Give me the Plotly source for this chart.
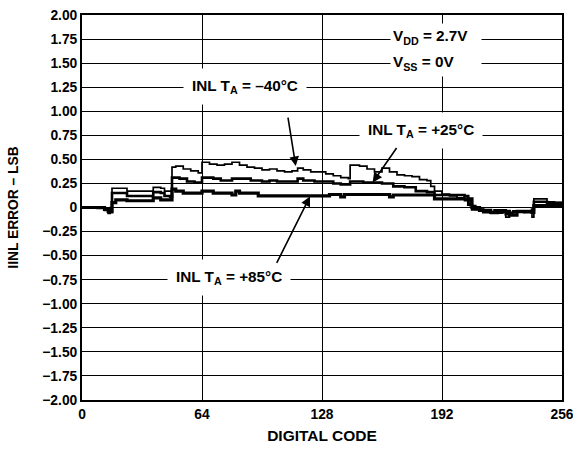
import plotly.graph_objects as go

# ---- data ----
code_m40 = [0, 8, 12, 14, 15, 16, 20, 24, 36, 38, 42, 44, 47, 48, 50, 54, 58, 62, 64, 68, 72, 76, 80, 84, 88,
            92, 96, 100, 104, 108, 112, 115, 118, 122, 126, 130, 134, 138, 142, 143, 148, 152, 156, 160, 164,
            168, 172, 176, 180, 184, 186, 188, 192, 196, 200, 204, 207, 210, 214, 218, 222, 226, 228, 232,
            236, 240, 241, 244, 248, 252, 256]
inl_m40 = [0.0, -0.01, -0.03, -0.06, 0.0, 0.2, 0.2, 0.17, 0.17, 0.21, 0.2, 0.17, 0.17, 0.42, 0.43, 0.4, 0.38,
           0.36, 0.47, 0.45, 0.44, 0.45, 0.47, 0.44, 0.42, 0.41, 0.39, 0.40, 0.38, 0.37, 0.38, 0.41, 0.39, 0.37,
           0.37, 0.35, 0.33, 0.31, 0.30, 0.44, 0.43, 0.40, 0.37, 0.41, 0.37, 0.34, 0.33, 0.32, 0.29, 0.28, 0.22,
           0.17, 0.14, 0.12, 0.10, 0.07, 0.02, -0.02, -0.04, -0.06, -0.05, -0.10, -0.05, -0.05, -0.04, -0.10,
           0.09, 0.09, 0.06, 0.05, 0.02]

code_p25 = [0, 12, 14, 16, 20, 24, 36, 38, 42, 44, 47, 48, 52, 56, 60, 64, 70, 74, 80, 86, 90, 96, 100, 104,
            110, 115, 118, 124, 130, 134, 138, 143, 150, 156, 160, 166, 172, 178, 184, 188, 196, 204, 206, 208,
            214, 220, 226, 230, 236, 240, 241, 248, 256]
inl_p25 = [0.0, -0.02, -0.05, 0.15, 0.15, 0.12, 0.12, 0.16, 0.15, 0.12, 0.11, 0.31, 0.30, 0.27, 0.26, 0.31,
           0.30, 0.28, 0.30, 0.30, 0.28, 0.27, 0.28, 0.27, 0.27, 0.30, 0.28, 0.27, 0.27, 0.25, 0.24, 0.27, 0.26,
           0.26, 0.25, 0.22, 0.21, 0.17, 0.16, 0.13, 0.13, 0.12, 0.03, -0.02, -0.05, -0.03, -0.07, -0.04, -0.05,
           -0.02, 0.06, 0.05, 0.02]

code_p85 = [0, 12, 14, 16, 18, 24, 36, 38, 42, 47, 48, 50, 54, 62, 64, 70, 78, 80, 82, 84, 90, 94, 128, 132,
            138, 140, 160, 164, 166, 186, 188, 204, 208, 212, 218, 224, 228, 232, 240, 241, 248, 256]
inl_p85 = [0.0, -0.02, -0.04, 0.05, 0.08, 0.07, 0.07, 0.10, 0.08, 0.08, 0.19, 0.17, 0.15, 0.15, 0.17, 0.15,
           0.15, 0.13, 0.17, 0.15, 0.15, 0.12, 0.12, 0.135, 0.11, 0.135, 0.135, 0.11, 0.13, 0.13, 0.09, 0.09,
           0.0, -0.03, -0.05, -0.04, -0.08, -0.04, -0.05, 0.02, 0.02, 0.0]

y_ticks = [2.0, 1.75, 1.5, 1.25, 1.0, 0.75, 0.5, 0.25, 0, -0.25, -0.5, -0.75, -1.0, -1.25, -1.5, -1.75, -2.0]
y_ticktext = ["2.00", "1.75", "1.50", "1.25", "1.00", "0.75", "0.50", "0.25", "0", "\u22120.25", "\u22120.50",
              "\u22120.75", "\u22121.00", "\u22121.25", "\u22121.50", "\u22121.75", "\u22122.00"]
x_ticks = [0, 64, 128, 192, 256]

FONT = "Liberation Sans"
TICK_FS = 13.8
TITLE_FS = 15.5
LAB_FS = 15.3

fig = go.Figure()
for xs, ys, w in [(code_m40, inl_m40, 1.7), (code_p25, inl_p25, 2.6), (code_p85, inl_p85, 3.2)]:
    fig.add_trace(go.Scatter(x=xs, y=ys, mode="lines", line=dict(color="black", width=w, shape="hv"),
                             showlegend=False, hoverinfo="skip"))

lab_font = dict(family=FONT, size=LAB_FS, color="black", weight="bold")


def label(text, x, y, pad=10, width=None, align="center", height=None):
    fig.add_annotation(x=x, y=y, xref="x", yref="y", text=text, showarrow=False, font=lab_font,
                       bgcolor="white", borderpad=pad, width=width, height=height, align=align)


def arrow(x, y, ax, ay):
    fig.add_annotation(x=x, y=y, xref="x", yref="y", text="", showarrow=True, ax=ax, ay=ay,
                       arrowhead=2, arrowsize=1.2, arrowwidth=1.6, arrowcolor="black")


label("V<sub>DD</sub> = 2.7V", 189, 1.77, pad=2, width=86, height=22, align="left")
label("V<sub>SS</sub> = 0V", 189, 1.50, pad=2, width=86, height=22, align="left")
label("INL T<sub>A</sub> = \u201340\u00b0C", 87, 1.26, pad=8)
label("INL T<sub>A</sub> = +25\u00b0C", 181, 0.80, pad=8)
label("INL T<sub>A</sub> = +85\u00b0C", 78.4, -0.73, pad=8)

arrow(114, 0.43, -8, -50)
arrow(155, 0.26, 25, -36)
arrow(121.6, 0.115, -34, 68)

axis_common = dict(showline=True, mirror=True, linecolor="black", linewidth=2, showgrid=True,
                   gridcolor="black", gridwidth=1, zeroline=False, ticks="", automargin=False,
                   ticklabeloverflow="allow",
                   tickfont=dict(family=FONT, size=TICK_FS, color="black", weight="bold"))

fig.update_xaxes(range=[0, 256], tickvals=x_ticks, **axis_common,
                 title=dict(text="DIGITAL CODE",
                            font=dict(family=FONT, size=TITLE_FS, color="black", weight="bold"),
                            standoff=10))
fig.update_yaxes(range=[-2, 2], tickvals=y_ticks, ticktext=y_ticktext, **axis_common,
                 title=dict(text="IINL ERROR \u2013 LSB",
                            font=dict(family=FONT, size=TICK_FS, color="black", weight="bold"),
                            standoff=20))

fig.update_layout(width=573, height=449, margin=dict(l=82, r=11, t=15, b=49, autoexpand=False),
                  plot_bgcolor="white", paper_bgcolor="white",
                  font=dict(family=FONT, size=TICK_FS, color="black", weight="bold"))

# remove the default page margin so the figure fills the window exactly
fig.write_html("out.html", config={"displayModeBar": False},
               post_script="document.body.style.margin='0';document.body.style.overflow='hidden';")
